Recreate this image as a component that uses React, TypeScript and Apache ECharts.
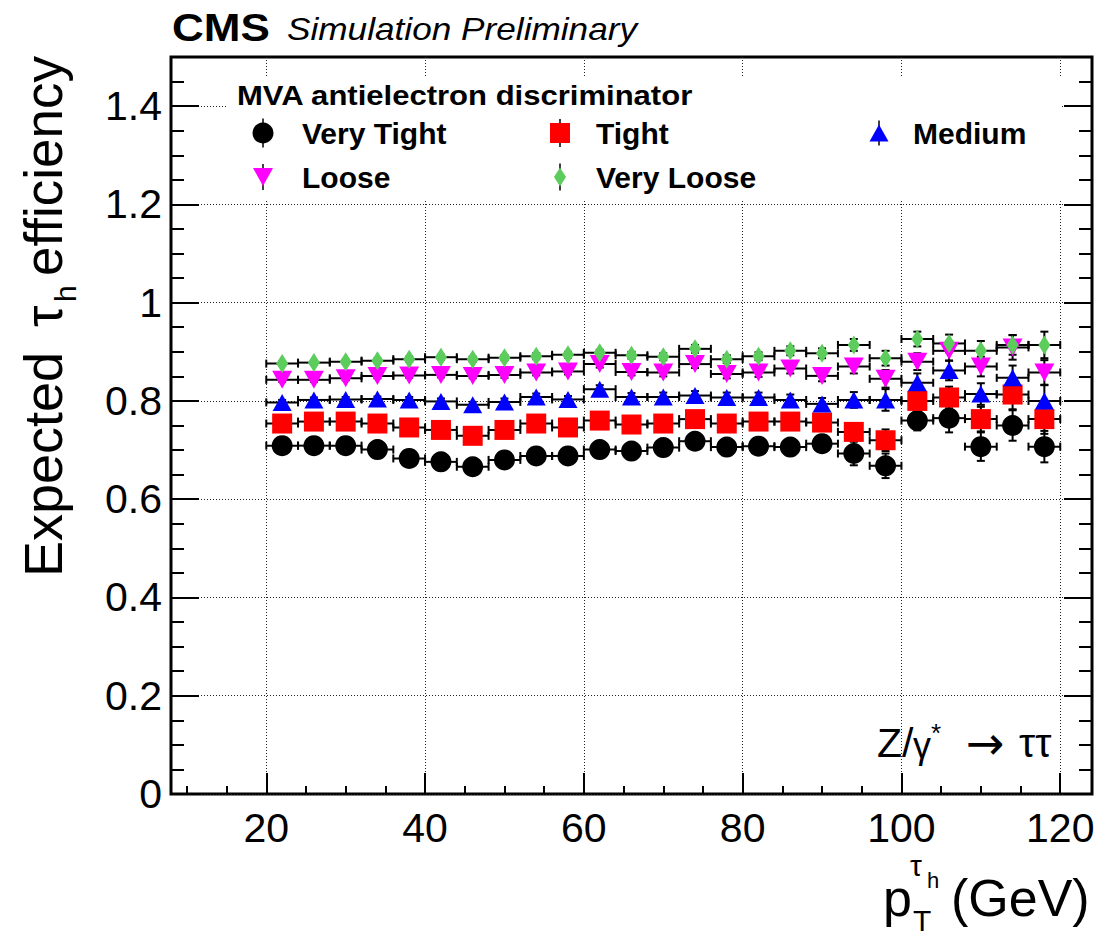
import { useEffect, useRef } from 'react';
import * as echarts from 'echarts';

// ---------------- data ----------------
const PT = [22, 26, 30, 34, 38, 42, 46, 50, 54, 58, 62, 66, 70, 74, 78, 82, 86, 90, 94, 98, 102, 106, 110, 114, 118];
const PT_HALF_WIDTH = 2;

const VERY_TIGHT = [0.709, 0.709, 0.709, 0.701, 0.683, 0.676, 0.666, 0.680, 0.688, 0.688, 0.701, 0.698, 0.705, 0.718, 0.706, 0.708, 0.706, 0.713, 0.693, 0.668, 0.760, 0.765, 0.707, 0.750, 0.707];
const TIGHT = [0.754, 0.758, 0.758, 0.754, 0.746, 0.741, 0.729, 0.741, 0.754, 0.746, 0.760, 0.752, 0.754, 0.763, 0.754, 0.758, 0.758, 0.756, 0.737, 0.720, 0.800, 0.807, 0.763, 0.813, 0.763];
const MEDIUM = [0.797, 0.802, 0.803, 0.804, 0.802, 0.799, 0.792, 0.798, 0.808, 0.803, 0.824, 0.808, 0.808, 0.811, 0.807, 0.807, 0.802, 0.794, 0.802, 0.802, 0.837, 0.862, 0.814, 0.847, 0.800];
const LOOSE = [0.843, 0.843, 0.846, 0.851, 0.852, 0.853, 0.851, 0.853, 0.858, 0.860, 0.875, 0.859, 0.858, 0.875, 0.855, 0.858, 0.866, 0.851, 0.870, 0.845, 0.880, 0.902, 0.870, 0.909, 0.858];
const VERY_LOOSE = [0.876, 0.878, 0.880, 0.882, 0.885, 0.889, 0.885, 0.888, 0.891, 0.894, 0.898, 0.893, 0.890, 0.906, 0.885, 0.891, 0.902, 0.897, 0.914, 0.887, 0.926, 0.917, 0.902, 0.914, 0.914];

const VERY_TIGHT_ERR = [0.006, 0.006, 0.006, 0.007, 0.007, 0.007, 0.008, 0.008, 0.008, 0.009, 0.009, 0.010, 0.010, 0.011, 0.011, 0.012, 0.013, 0.014, 0.024, 0.025, 0.020, 0.029, 0.029, 0.031, 0.032];
const TIGHT_ERR = [0.005, 0.005, 0.005, 0.006, 0.006, 0.006, 0.007, 0.007, 0.007, 0.008, 0.008, 0.009, 0.009, 0.010, 0.010, 0.011, 0.012, 0.013, 0.018, 0.022, 0.019, 0.022, 0.025, 0.030, 0.030];
const MEDIUM_ERR = [0.005, 0.005, 0.005, 0.005, 0.006, 0.006, 0.006, 0.007, 0.007, 0.007, 0.008, 0.008, 0.009, 0.009, 0.010, 0.010, 0.011, 0.012, 0.016, 0.022, 0.019, 0.020, 0.022, 0.025, 0.032];
const LOOSE_ERR = [0.004, 0.004, 0.004, 0.005, 0.005, 0.005, 0.005, 0.006, 0.006, 0.006, 0.007, 0.007, 0.008, 0.008, 0.009, 0.009, 0.010, 0.011, 0.014, 0.018, 0.017, 0.020, 0.020, 0.025, 0.025];
const VERY_LOOSE_ERR = [0.004, 0.004, 0.004, 0.004, 0.005, 0.005, 0.005, 0.005, 0.006, 0.006, 0.006, 0.007, 0.007, 0.008, 0.008, 0.008, 0.009, 0.010, 0.012, 0.015, 0.015, 0.018, 0.020, 0.020, 0.027];

const SERIES_NAMES = ['Very Tight', 'Tight', 'Medium', 'Loose', 'Very Loose'];

const X_MIN = 8;
const X_MAX = 124;
const Y_MIN = 0;
const Y_MAX = 1.5;
const X_MAJOR = [20, 40, 60, 80, 100, 120];
const X_MINOR = [10, 15, 25, 30, 35, 45, 50, 55, 65, 70, 75, 85, 90, 95, 105, 110, 115];
const Y_MAJOR = [0, 0.2, 0.4, 0.6, 0.8, 1, 1.2, 1.4];
const Y_MINOR = [0.05, 0.1, 0.15, 0.25, 0.3, 0.35, 0.45, 0.5, 0.55, 0.65, 0.7, 0.75, 0.85, 0.9, 0.95, 1.05, 1.1, 1.15, 1.25, 1.3, 1.35, 1.45];

// ---------------- styling ----------------
const FONT = "'Liberation Sans', Arial, Helvetica, sans-serif";
const GRID = { left: 171, top: 57, width: 921, height: 737 };

const MARKERS = [
  { symbol: 'circle', size: [21, 21], color: '#000000' },
  { symbol: 'rect', size: [20, 20], color: '#ff0000' },
  { symbol: 'triangle', size: [19, 17], color: '#0000ff' },
  { symbol: 'path://M0 0 L20 0 L10 18 Z', size: [20, 18], color: '#ff00ff' },
  { symbol: 'diamond', size: [12, 19], color: '#5ccc5c' },
];

const LEGEND_POS = [
  { cx: 263, cy: 133, tx: 302 },
  { cx: 560, cy: 133, tx: 596 },
  { cx: 879, cy: 133, tx: 913 },
  { cx: 263, cy: 177, tx: 302 },
  { cx: 560, cy: 177, tx: 596 },
];

function errorSeries(name: string, ys: number[], errs: number[]) {
  return {
    type: 'custom',
    name,
    silent: true,
    xAxisIndex: 0,
    yAxisIndex: 0,
    data: PT.map((x, i) => [x, ys[i], errs[i]]),
    renderItem: (_params: any, api: any) => {
      const x = api.value(0);
      const y = api.value(1);
      const e = api.value(2);
      const l = api.coord([x - PT_HALF_WIDTH, y]);
      const r = api.coord([x + PT_HALF_WIDTH, y]);
      const t = api.coord([x, y + e]);
      const b = api.coord([x, y - e]);
      const c = 4;
      const style = { stroke: '#000', lineWidth: 2 };
      return {
        type: 'group',
        children: [
          { type: 'line', shape: { x1: l[0], y1: l[1], x2: r[0], y2: r[1] }, style },
          { type: 'line', shape: { x1: l[0], y1: l[1] - c, x2: l[0], y2: l[1] + c }, style },
          { type: 'line', shape: { x1: r[0], y1: r[1] - c, x2: r[0], y2: r[1] + c }, style },
          { type: 'line', shape: { x1: t[0], y1: t[1], x2: b[0], y2: b[1] }, style },
          { type: 'line', shape: { x1: t[0] - c, y1: t[1], x2: t[0] + c, y2: t[1] }, style },
          { type: 'line', shape: { x1: b[0] - c, y1: b[1], x2: b[0] + c, y2: b[1] }, style },
        ],
      };
    },
  };
}

function markerSeries(idx: number, ys: number[]) {
  const m = MARKERS[idx];
  return {
    type: 'scatter',
    name: SERIES_NAMES[idx],
    silent: true,
    xAxisIndex: 0,
    yAxisIndex: 0,
    symbol: m.symbol,
    symbolSize: m.size,
    itemStyle: { color: m.color, opacity: 1 },
    emphasis: { disabled: true },
    data: PT.map((x, i) => [x, ys[i]]),
  };
}

function buildOption() {
  const allY = [VERY_TIGHT, TIGHT, MEDIUM, LOOSE, VERY_LOOSE];
  const allErr = [VERY_TIGHT_ERR, TIGHT_ERR, MEDIUM_ERR, LOOSE_ERR, VERY_LOOSE_ERR];
  const series: any[] = [];
  allY.forEach((ys, i) => {
    series.push(errorSeries('err-' + i, ys, allErr[i]));
    series.push(markerSeries(i, ys));
  });

  const tickLine = { color: '#000', width: 2 };
  const xBase = { type: 'value', min: X_MIN, max: X_MAX, gridIndex: 0 };
  const yBase = { type: 'value', min: Y_MIN, max: Y_MAX, interval: 0.2, gridIndex: 0 };

  const legends = SERIES_NAMES.map((name, i) => {
    const p = LEGEND_POS[i];
    const [w, h] = MARKERS[i].size;
    return {
      show: true,
      selectedMode: false,
      orient: 'horizontal',
      left: p.cx - w / 2 - 5,
      top: p.cy - 15 - 5,
      padding: 5,
      itemWidth: w,
      itemHeight: h,
      data: [name],
      textStyle: {
        fontSize: 30,
        fontWeight: 'bold',
        fontFamily: FONT,
        color: '#000',
        lineHeight: 30,
        padding: [0, 0, 0, p.tx - (p.cx + w / 2 + 5)],
      },
    };
  });

  const legendLines = SERIES_NAMES.map((_n, i) => {
    const p = LEGEND_POS[i];
    const h = MARKERS[i].size[1];
    return {
      type: 'line',
      z: 3,
      silent: true,
      shape: { x1: p.cx, y1: p.cy - h / 2 - 4, x2: p.cx, y2: p.cy + h / 2 + 4 },
      style: { stroke: '#000', lineWidth: 1.5 },
    };
  });

  const txt = (text: string, x: number, y: number, size: number, extra: any = {}) => ({
    type: 'text',
    x,
    y,
    silent: true,
    z: 5,
    ...(extra.el || {}),
    style: {
      text,
      fontSize: size,
      fontFamily: FONT,
      fill: '#000',
      align: 'left',
      verticalAlign: 'middle',
      ...(extra.style || {}),
    },
  });

  return {
    animation: false,
    backgroundColor: '#fff',
    grid: { ...GRID, show: true, borderColor: '#000', borderWidth: 3, backgroundColor: 'transparent', containLabel: false },
    xAxis: [
      {
        ...xBase,
        position: 'bottom',
        axisLine: { show: false },
        axisTick: { show: true, inside: true, length: 21, customValues: X_MAJOR, lineStyle: tickLine },
        axisLabel: { show: true, customValues: X_MAJOR, margin: 13, fontSize: 41, color: '#000', fontFamily: FONT },
        splitLine: { show: true, lineStyle: { color: '#222', width: 1, type: [1, 2] } },
      },
      {
        ...xBase,
        position: 'bottom',
        axisLine: { show: false },
        axisTick: { show: true, inside: true, length: 8, customValues: X_MINOR, lineStyle: tickLine },
        axisLabel: { show: false },
        splitLine: { show: false },
      },
    ],
    yAxis: [
      {
        ...yBase,
        position: 'left',
        axisLine: { show: false },
        axisTick: { show: true, inside: true, length: 28, customValues: Y_MAJOR, lineStyle: tickLine },
        axisLabel: { show: true, customValues: Y_MAJOR, margin: 9, fontSize: 41, color: '#000', fontFamily: FONT },
        splitLine: { show: true, lineStyle: { color: '#222', width: 1, type: [1, 2] } },
      },
      {
        ...yBase,
        position: 'left',
        axisLine: { show: false },
        axisTick: { show: true, inside: true, length: 13, customValues: Y_MINOR, lineStyle: tickLine },
        axisLabel: { show: false },
        splitLine: { show: false },
      },
      {
        ...yBase,
        position: 'right',
        axisLine: { show: false },
        axisTick: { show: true, inside: true, length: 28, customValues: Y_MAJOR, lineStyle: tickLine },
        axisLabel: { show: false },
        splitLine: { show: false },
      },
      {
        ...yBase,
        position: 'right',
        axisLine: { show: false },
        axisTick: { show: true, inside: true, length: 13, customValues: Y_MINOR, lineStyle: tickLine },
        axisLabel: { show: false },
        splitLine: { show: false },
      },
    ],
    legend: legends,
    graphic: [
      { type: 'rect', z: 1, silent: true, shape: { x: 228, y: 76, width: 834, height: 123 }, style: { fill: '#fff' } },
      ...legendLines,
      txt('MVA antielectron discriminator', 237, 96, 27, { el: { scaleX: 1.15 }, style: { fontWeight: 'bold' } }),
      txt('CMS', 172, 27, 39, { el: { scaleX: 1.13 }, style: { fontWeight: 'bold' } }),
      txt('Simulation Preliminary', 287, 29, 32, { el: { scaleX: 1.1 }, style: { fontStyle: 'italic' } }),
      // x-axis title
      txt('p', 883, 898, 52),
      txt('T', 913, 920, 30),
      txt('τ', 910, 865, 30),
      txt('h', 927, 880, 22),
      txt('(GeV)', 951, 898, 52),
      // process label
      txt('Z/', 877, 743, 41),
      txt('γ', 913, 745, 36),
      txt('*', 931, 733, 26),
      txt('→', 966, 743, 46, { style: { fontFamily: "'DejaVu Sans', sans-serif" } }),
      txt('ττ', 1019, 743, 41),
      // y-axis title
      {
        type: 'group',
        x: 43,
        y: 577,
        rotation: Math.PI / 2,
        silent: true,
        z: 5,
        children: [
          { type: 'text', x: 0, y: 0, style: { text: 'Expected', fontSize: 54, fontFamily: FONT, fill: '#000', align: 'left', verticalAlign: 'middle' } },
          { type: 'text', x: 250, y: 0, style: { text: 'τ', fontSize: 54, fontFamily: FONT, fill: '#000', align: 'left', verticalAlign: 'middle' } },
          { type: 'text', x: 275, y: 22, style: { text: 'h', fontSize: 30, fontFamily: FONT, fill: '#000', align: 'left', verticalAlign: 'middle' } },
          { type: 'text', x: 301, y: 0, style: { text: 'efficiency', fontSize: 53, fontFamily: FONT, fill: '#000', align: 'left', verticalAlign: 'middle' } },
        ],
      },
    ],
    series,
  };
}

export default function App() {
  const ref = useRef<HTMLDivElement>(null);
  useEffect(() => {
    if (!ref.current) return;
    const chart = echarts.init(ref.current, null, { renderer: 'svg' });
    chart.setOption(buildOption() as any);
    return () => chart.dispose();
  }, []);
  return (
    <div
      ref={ref}
      style={{ position: 'absolute', left: 0, top: 0, width: 1116, height: 936, background: '#fff' }}
    />
  );
}
